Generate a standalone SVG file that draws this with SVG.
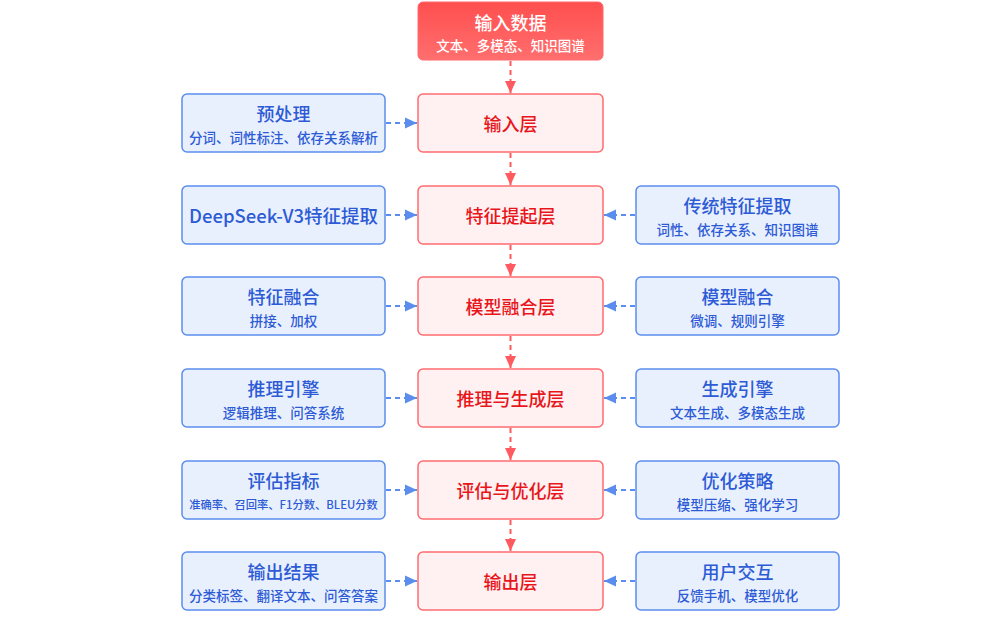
<svg xmlns="http://www.w3.org/2000/svg" width="1000" height="620" viewBox="0 0 1000 620">
<defs>
<linearGradient id="topg" x1="0" y1="0" x2="0" y2="1"><stop offset="0" stop-color="#ff4f4f"/><stop offset="1" stop-color="#ff6e6e"/></linearGradient>
<marker id="ar" viewBox="0 0 12 12" refX="12" refY="6" markerWidth="12" markerHeight="12" markerUnits="userSpaceOnUse" orient="auto"><path d="M0,0.5 L12,6 L0,11.5 z" fill="#ff5a5f"/></marker>
<marker id="ab" viewBox="0 0 12 12" refX="12" refY="6" markerWidth="12" markerHeight="12" markerUnits="userSpaceOnUse" orient="auto"><path d="M0,0.5 L12,6 L0,11.5 z" fill="#5b8def"/></marker>
<style>
text{font-family:"Noto Sans CJK SC","Noto Sans",sans-serif;text-anchor:middle;dominant-baseline:central;font-weight:500}
.c rect{fill:#fff1f1;stroke:#ff6b6f;stroke-width:1.5}
.c text{fill:#e8151b;font-size:18px}
.b rect{fill:#e9f0fd;stroke:#5b8def;stroke-width:1.5}
.b .t{fill:#2d5bd6;font-size:18px}
.b .s{fill:#2d5bd6;font-size:13.5px}
.r{stroke:#ff5a5f;stroke-width:2;stroke-dasharray:5,4;fill:none;marker-end:url(#ar)}
.l{stroke:#5b8def;stroke-width:2;stroke-dasharray:5,4;fill:none;marker-end:url(#ab)}
</style>
</defs>
<rect width="1000" height="620" fill="#ffffff"/>
<g id="input-data">
<rect x="418" y="2" width="185" height="58" rx="5" fill="url(#topg)" stroke="#ff6b6f" stroke-width="1"/>
<text x="510.5" y="22" fill="#ffffff" font-size="18">输入数据</text>
<text x="510.5" y="45" fill="#ffffff" font-size="13.5">文本、多模态、知识图谱</text>
</g>
<g id="l1" class="c"><rect x="418" y="94" width="185" height="58" rx="5"/><text x="510.5" y="123">输入层</text></g>
<g id="l2" class="c"><rect x="418" y="186" width="185" height="58" rx="5"/><text x="510.5" y="215">特征提起层</text></g>
<g id="l3" class="c"><rect x="418" y="277" width="185" height="58" rx="5"/><text x="510.5" y="306">模型融合层</text></g>
<g id="l4" class="c"><rect x="418" y="369" width="185" height="58" rx="5"/><text x="510.5" y="398">推理与生成层</text></g>
<g id="l5" class="c"><rect x="418" y="461" width="185" height="58" rx="5"/><text x="510.5" y="490">评估与优化层</text></g>
<g id="l6" class="c"><rect x="418" y="552" width="185" height="58" rx="5"/><text x="510.5" y="581">输出层</text></g>

<g id="pre" class="b"><rect x="182" y="94" width="203" height="58" rx="5"/><text class="t" x="283.5" y="113">预处理</text><text class="s" x="283.5" y="137">分词、词性标注、依存关系解析</text></g>
<g id="ds" class="b"><rect x="182" y="186" width="203" height="58" rx="5"/><text class="t" x="283.5" y="215" style="font-size:18.5px">DeepSeek-V3特征提取</text></g>
<g id="ff" class="b"><rect x="182" y="277" width="203" height="58" rx="5"/><text class="t" x="283.5" y="296">特征融合</text><text class="s" x="283.5" y="320">拼接、加权</text></g>
<g id="ie" class="b"><rect x="182" y="369" width="203" height="58" rx="5"/><text class="t" x="283.5" y="388">推理引擎</text><text class="s" x="283.5" y="412">逻辑推理、问答系统</text></g>
<g id="em" class="b"><rect x="182" y="461" width="203" height="58" rx="5"/><text class="t" x="283.5" y="480">评估指标</text><text class="s" x="283.5" y="504" style="font-size:11.3px">准确率、召回率、F1分数、BLEU分数</text></g>
<g id="out" class="b"><rect x="182" y="552" width="203" height="58" rx="5"/><text class="t" x="283.5" y="571">输出结果</text><text class="s" x="283.5" y="595">分类标签、翻译文本、问答答案</text></g>

<g id="tf" class="b"><rect x="636" y="186" width="203" height="58" rx="5"/><text class="t" x="737.5" y="205">传统特征提取</text><text class="s" x="737.5" y="229">词性、依存关系、知识图谱</text></g>
<g id="mf" class="b"><rect x="636" y="277" width="203" height="58" rx="5"/><text class="t" x="737.5" y="296">模型融合</text><text class="s" x="737.5" y="320">微调、规则引擎</text></g>
<g id="ge" class="b"><rect x="636" y="369" width="203" height="58" rx="5"/><text class="t" x="737.5" y="388">生成引擎</text><text class="s" x="737.5" y="412">文本生成、多模态生成</text></g>
<g id="os" class="b"><rect x="636" y="461" width="203" height="58" rx="5"/><text class="t" x="737.5" y="480">优化策略</text><text class="s" x="737.5" y="504">模型压缩、强化学习</text></g>
<g id="ui" class="b"><rect x="636" y="552" width="203" height="58" rx="5"/><text class="t" x="737.5" y="571">用户交互</text><text class="s" x="737.5" y="595">反馈手机、模型优化</text></g>

<g id="connectors">
<path class="r" d="M510.5,61 V93"/>
<path class="r" d="M510.5,153 V185"/>
<path class="r" d="M510.5,245 V276"/>
<path class="r" d="M510.5,336 V368"/>
<path class="r" d="M510.5,428 V460"/>
<path class="r" d="M510.5,520 V551"/>
<path class="l" d="M386,123 H417"/>
<path class="l" d="M386,215 H417"/>
<path class="l" d="M386,306 H417"/>
<path class="l" d="M386,398 H417"/>
<path class="l" d="M386,490 H417"/>
<path class="l" d="M386,581 H417"/>
<path class="l" d="M635,215 H604"/>
<path class="l" d="M635,306 H604"/>
<path class="l" d="M635,398 H604"/>
<path class="l" d="M635,490 H604"/>
<path class="l" d="M635,581 H604"/>
</g>
</svg>
